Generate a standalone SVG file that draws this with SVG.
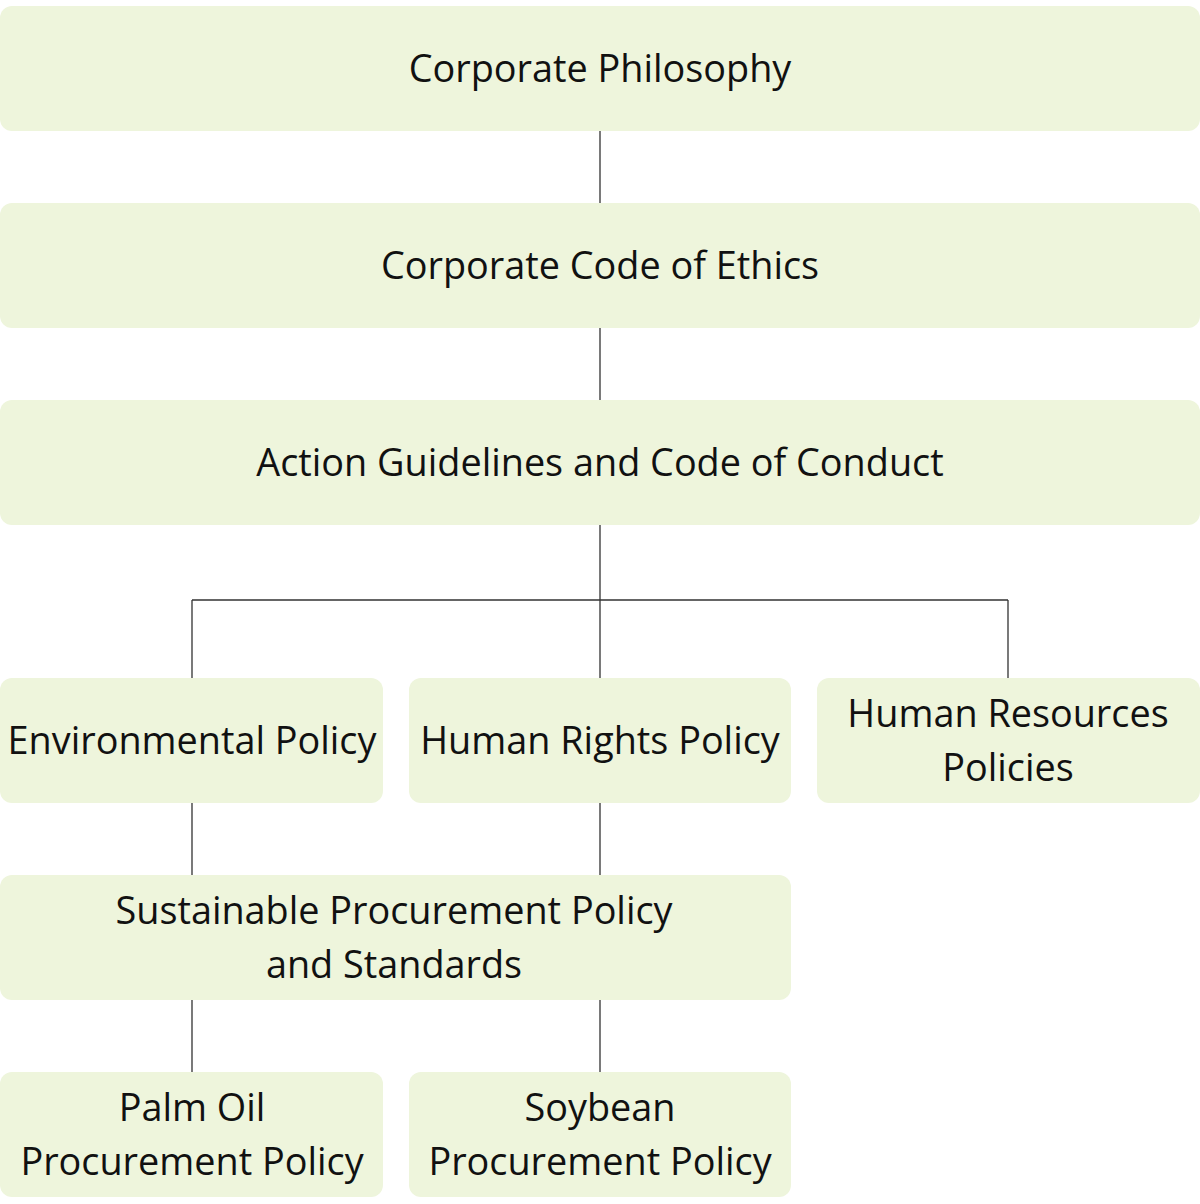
<svg xmlns="http://www.w3.org/2000/svg" width="1200" height="1204" viewBox="0 0 1200 1204">
<style>
.box{fill:#eef5dc}
.t{font-family:"Open Sans","Liberation Sans",sans-serif;font-size:37.8px;fill:#111;text-anchor:middle;dominant-baseline:central}
.c{stroke:#333;stroke-width:1.3;fill:none}
</style>
<rect width="1200" height="1204" fill="#fff"/>
<g id="connectors">
<path class="c" d="M600 131V203M600 328V400M600 525V678M192 600H1008M192 600V678M1008 600V678M192 803V875M600 803V875M192 1000V1072M600 1000V1072"/>
</g>
<g id="philosophy"><rect class="box" x="0" y="6" width="1200" height="125" rx="12"/><text class="t" x="600" y="67">Corporate Philosophy</text></g>
<g id="ethics"><rect class="box" x="0" y="203" width="1200" height="125" rx="12"/><text class="t" x="600" y="264">Corporate Code of Ethics</text></g>
<g id="guidelines"><rect class="box" x="0" y="400" width="1200" height="125" rx="12"/><text class="t" x="600" y="461">Action Guidelines and Code of Conduct</text></g>
<g id="environmental"><rect class="box" x="0" y="678" width="383" height="125" rx="12"/><text class="t" x="192" y="739">Environmental Policy</text></g>
<g id="humanrights"><rect class="box" x="409" y="678" width="382" height="125" rx="12"/><text class="t" x="600" y="739">Human Rights Policy</text></g>
<g id="hr"><rect class="box" x="817" y="678" width="383" height="125" rx="12"/><text class="t" x="1008" y="712">Human Resources</text><text class="t" x="1008" y="766">Policies</text></g>
<g id="sustainable"><rect class="box" x="0" y="875" width="791" height="125" rx="12"/><text class="t" x="394" y="909">Sustainable Procurement Policy</text><text class="t" x="394" y="963">and Standards</text></g>
<g id="palm"><rect class="box" x="0" y="1072" width="383" height="125" rx="12"/><text class="t" x="192" y="1106">Palm Oil</text><text class="t" x="192" y="1160">Procurement Policy</text></g>
<g id="soybean"><rect class="box" x="409" y="1072" width="382" height="125" rx="12"/><text class="t" x="600" y="1106">Soybean</text><text class="t" x="600" y="1160">Procurement Policy</text></g>
</svg>
